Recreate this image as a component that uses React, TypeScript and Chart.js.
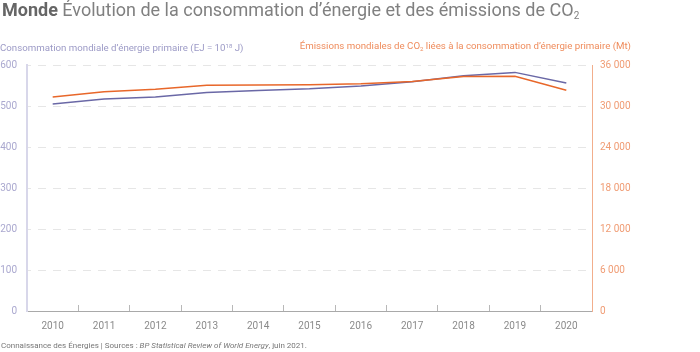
import React, { useEffect, useRef } from "react";
import { Chart, registerables } from "chart.js";

Chart.register(...registerables);

const years = ["2010", "2011", "2012", "2013", "2014", "2015", "2016", "2017", "2018", "2019", "2020"];
const energyEJ = [505, 517, 522, 533, 538, 542, 549, 559, 574, 582, 556];
const co2Mt = [31300, 32100, 32450, 33050, 33080, 33100, 33250, 33600, 34300, 34350, 32300];
const leftMax = 600;
const leftStep = 100;
const rightMax = 36000;
const rightStep = 6000;

const PURPLE = "#6a68a6";
const ORANGE = "#e8672a";
const FONT = "Roboto, 'Noto Sans', sans-serif";

function fmtThousands(v: number): string {
  return String(Math.round(v)).replace(/\B(?=(\d{3})+(?!\d))/g, "\u00a0");
}

export default function App() {
  const ref = useRef<HTMLCanvasElement | null>(null);

  useEffect(() => {
    if (!ref.current) return;
    const chart = new Chart(ref.current, {
      type: "line",
      data: {
        labels: years,
        datasets: [
          {
            label: "Émissions",
            data: co2Mt,
            yAxisID: "yR",
            borderColor: ORANGE,
            borderWidth: 1.5,
            pointRadius: 0,
            tension: 0,
            fill: false,
          },
          {
            label: "Consommation",
            data: energyEJ,
            yAxisID: "yL",
            borderColor: PURPLE,
            borderWidth: 1.5,
            pointRadius: 0,
            tension: 0,
            fill: false,
          },
        ],
      },
      options: {
        animation: false,
        responsive: false,
        maintainAspectRatio: false,
        layout: { padding: { top: 65, left: 0, right: 0, bottom: 0 } },
        plugins: {
          legend: { display: false },
          title: { display: false },
          tooltip: { enabled: false },
        },
        scales: {
          x: {
            type: "category",
            offset: true,
            grid: {
              display: true,
              drawOnChartArea: false,
              offset: true,
              tickLength: -6,
              color: "#b8b8b8",
              lineWidth: 1,
            },
            border: { display: true, color: "#a9a9a9", width: 1 },
            ticks: {
              color: "#8a8a8a",
              font: { family: FONT, size: 10 },
              padding: 15,
              maxRotation: 0,
              autoSkip: false,
            },
            afterFit: (s: any) => {
              s.height = 41;
            },
          },
          yL: {
            type: "linear",
            position: "left",
            min: 0,
            max: leftMax,
            grid: {
              display: true,
              drawTicks: false,
              color: "#e6e6e6",
              lineWidth: 1,
            },
            border: { display: true, color: "#d8d7ea", width: 2, dash: [8, 7], dashOffset: 5 },
            ticks: {
              stepSize: leftStep,
              color: "#aaa8cf",
              font: { family: FONT, size: 10 },
              padding: 10,
            },
            afterFit: (s: any) => {
              s.width = 27;
            },
          },
          yR: {
            type: "linear",
            position: "right",
            min: 0,
            max: rightMax,
            grid: { display: false, drawTicks: false },
            border: { display: true, color: "#f2ae8c", width: 1 },
            ticks: {
              stepSize: rightStep,
              color: "#f09c74",
              font: { family: FONT, size: 10 },
              padding: 8,
              callback: (v: any) => fmtThousands(Number(v)),
            },
            afterFit: (s: any) => {
              s.width = 108;
            },
          },
        },
      } as any,
    });
    return () => chart.destroy();
  }, []);

  return (
    <div style={{ position: "fixed", left: 0, top: 0, width: 700, height: 352, background: "#fff", fontFamily: FONT }}>
      <div
        style={{
          position: "absolute",
          left: 2,
          top: -1,
          fontSize: 18,
          lineHeight: "22px",
          color: "#808080",
          whiteSpace: "nowrap",
        }}
      >
        <span style={{ fontWeight: 700, color: "#666" }}>Monde</span> Évolution de la consommation d’énergie et des émissions de CO
        <sub style={{ fontSize: 10, verticalAlign: "-3px" }}>2</sub>
      </div>
      <div
        style={{
          position: "absolute",
          left: 0,
          top: 39,
          fontSize: 9.7,
          lineHeight: "14px",
          color: "#9c9ac6",
          whiteSpace: "nowrap",
        }}
      >
        Consommation mondiale d’énergie primaire (EJ = 10<sup style={{ fontSize: 6, verticalAlign: "3px" }}>18</sup> J)
      </div>
      <div
        style={{
          position: "absolute",
          right: 69,
          top: 39,
          fontSize: 9.7,
          lineHeight: "14px",
          color: "#ef8c5c",
          whiteSpace: "nowrap",
        }}
      >
        Émissions mondiales de CO<sub style={{ fontSize: 6, verticalAlign: "-2px" }}>2</sub> liées à la consommation d’énergie primaire (Mt)
      </div>
      <canvas ref={ref} width={700} height={352} style={{ position: "absolute", left: 0, top: 0, width: 700, height: 352 }} />
      <div
        style={{
          position: "absolute",
          left: 1,
          top: 340,
          fontSize: 8,
          lineHeight: "12px",
          color: "#777",
          whiteSpace: "nowrap",
        }}
      >
        Connaissance des Énergies | Sources : <i>BP Statistical Review of World Energy</i>, juin 2021.
      </div>
    </div>
  );
}
